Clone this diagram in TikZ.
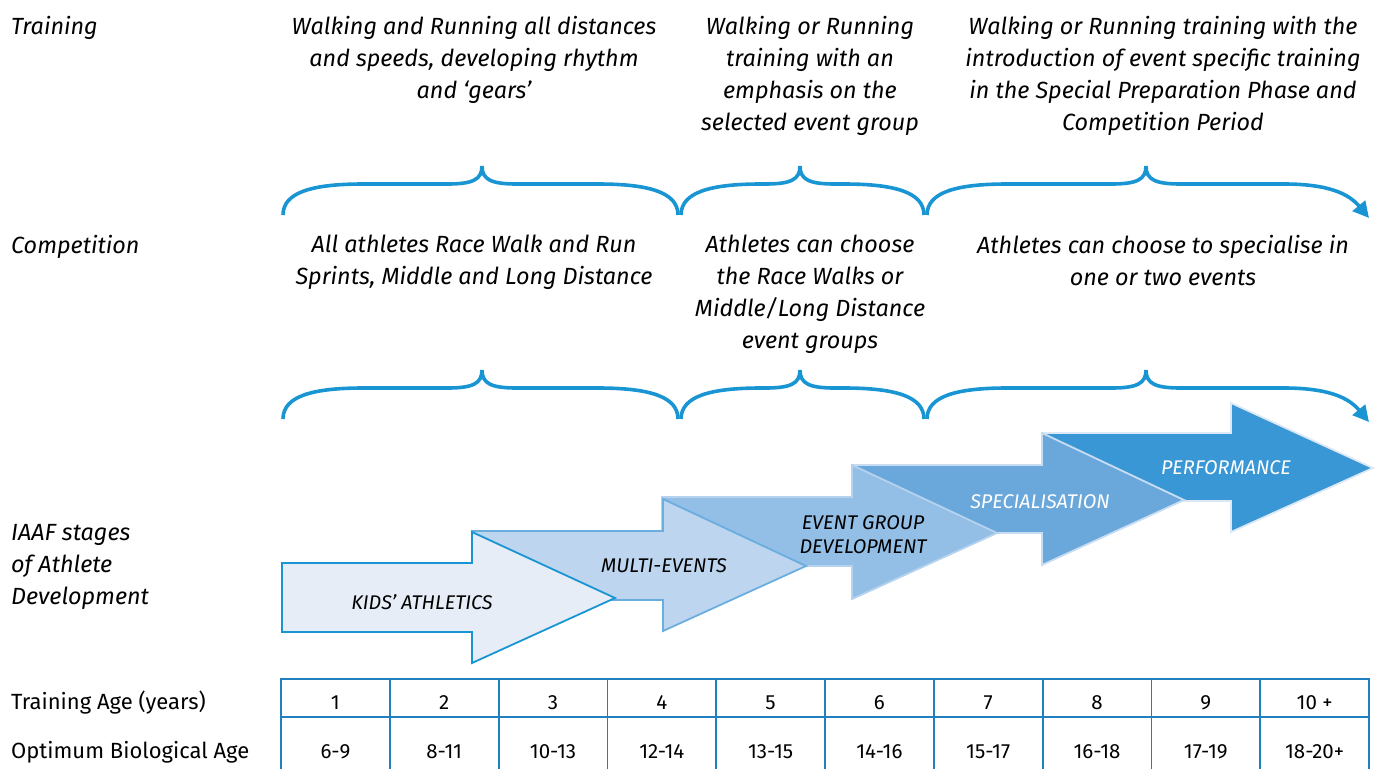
\documentclass[tikz,border=0pt]{standalone}
\usepackage{fontspec}
\setmainfont{Fira Sans}
\usetikzlibrary{arrows.meta}
\definecolor{brc}{HTML}{1A95D3}
\definecolor{tbc}{HTML}{1F7FBF}
\definecolor{fa}{HTML}{E6EDF7}
\definecolor{fb}{HTML}{BDD5EE}
\definecolor{fc}{HTML}{93BEE6}
\definecolor{fd}{HTML}{6AA8DC}
\definecolor{fe}{HTML}{3A97D5}
\definecolor{ea}{HTML}{1A95D3}
\definecolor{eb}{HTML}{6AAEE0}
\definecolor{ec}{HTML}{B5D2EE}
\definecolor{ed}{HTML}{C9DDF2}
\definecolor{ee}{HTML}{DCE8F5}
\newcommand\bracepath[4]{(#1,#4+31) .. controls (#1,#4+8) and (#1+30,#4) .. (#1+80,#4) -- (#2-35,#4) .. controls (#2-10,#4) and (#2,#4-4) .. (#2,#4-18) .. controls (#2,#4-4) and (#2+10,#4) .. (#2+35,#4) -- (#3-80,#4) .. controls (#3-30,#4) and (#3,#4+8) .. (#3,#4+31)}
\newcommand\lastbrace[4]{(#1,#4+31) .. controls (#1,#4+8) and (#1+30,#4) .. (#1+80,#4) -- (#2-35,#4) .. controls (#2-10,#4) and (#2,#4-4) .. (#2,#4-18) .. controls (#2,#4-4) and (#2+10,#4) .. (#2+35,#4) -- (#3-85,#4) .. controls (#3-40,#4) and (#3-20,#4+10) .. (#3,#4+34)}
\begin{document}
\begin{tikzpicture}[x=1pt,y=-1pt,
  lab/.style={font=\fontsize{23.4}{32}\selectfont\itshape, align=center, inner sep=0pt, anchor=north},
  side/.style={font=\fontsize{23.4}{32}\selectfont\itshape, align=left, inner sep=0pt},
  brc/.style={draw=brc, line width=3.6pt},
  stg/.style={font=\fontsize{19.8}{24}\selectfont\itshape, align=center, inner sep=0pt},
  stgbox/.style={line width=1.8pt, line join=miter},
  cell/.style={font=\fontsize{20.5}{24}\selectfont, inner sep=0pt},
  rowlab/.style={font=\fontsize{22}{24}\selectfont, anchor=west, inner sep=0pt},
  grid/.style={draw=tbc, line width=1.8pt}]
\useasboundingbox (0,0) rectangle (1379,769);

% side labels
\node[side, anchor=base west] (ltrain) at (11,34) {Training};
\node[side, anchor=base west] (lcomp) at (11,253) {Competition};
\node[side, anchor=north west] (lstage) at (11,524) {IAAF stages\\of Athlete\\Development};

% training texts
\node[lab] (t1) at (474,16) {Walking and Running all distances\\and speeds, developing rhythm\\and `gears'};
\node[lab] (t2) at (810,16) {Walking or Running\\training with an\\emphasis on the\\selected event group};
\node[lab] (t3) at (1163,16) {Walking or Running training with the\\introduction of event specific training\\in the Special Preparation Phase and\\Competition Period};

% competition texts
\node[lab] (c1) at (474,235) {All athletes Race Walk and Run\\Sprints, Middle and Long Distance};
\node[lab] (c2) at (810,235) {Athletes can choose\\the Race Walks or\\Middle/Long Distance\\event groups};
\node[lab] (c3) at (1163,235) {Athletes can choose to specialise in\\one or two events};

% braces
\draw[brc] \bracepath{283}{482}{678}{184};
\draw[brc] \bracepath{681}{800}{924}{184};
\draw[brc, -{Triangle[length=16pt,width=16pt]}] \lastbrace{927}{1146}{1369}{184};
\draw[brc] \bracepath{283}{482}{678}{388};
\draw[brc] \bracepath{681}{800}{924}{388};
\draw[brc, -{Triangle[length=16pt,width=16pt]}] \lastbrace{927}{1146}{1369}{388};

% stage arrows (back to front)
\draw[stgbox, fill=fe, draw=ee] (1042,433) -- (1231,433) -- (1231,403) -- (1373,468) -- (1231,532) -- (1231,501) -- (1042,501) -- cycle;
\draw[stgbox, fill=fd, draw=ed] (852,465) -- (1042,465) -- (1042,433) -- (1184,500) -- (1042,565) -- (1042,533) -- (852,533) -- cycle;
\draw[stgbox, fill=fc, draw=ec] (662,497) -- (852,497) -- (852,465) -- (997,533) -- (852,599) -- (852,566) -- (662,566) -- cycle;
\draw[stgbox, fill=fb, draw=eb] (472,531) -- (663,531) -- (663,499) -- (806,566) -- (663,631) -- (663,600) -- (472,600) -- cycle;
\draw[stgbox, fill=fa, draw=ea] (282,563) -- (472,563) -- (472,532) -- (615,598) -- (472,663) -- (472,632) -- (282,632) -- cycle;

\node[stg] (s1) at (422,602) {KIDS' ATHLETICS};
\node[stg] (s2) at (664,566) {MULTI-EVENTS};
\node[stg] (s3) at (863,535) {EVENT GROUP\\DEVELOPMENT};
\node[stg, text=white] (s4) at (1040,502) {SPECIALISATION};
\node[stg, text=white] (s5) at (1226,468) {PERFORMANCE};

% table
\draw[grid] (281,769) -- (281,679) -- (1369,679) -- (1369,769);
\draw[grid] (281,717) -- (1369,717);
\foreach \i in {1,...,9} {
  \draw[grid] (281+108.8*\i,679) -- (281+108.8*\i,769);
}
\node[rowlab] (r1) at (11,703) {Training Age (years)};
\node[rowlab] (r2) at (11,752) {Optimum Biological Age};
\foreach \a/\b [count=\i from 0] in {1/6-9,2/8-11,3/10-13,4/12-14,5/13-15,6/14-16,7/15-17,8/16-18,9/17-19,10 +/18-20+} {
  \node[cell] (ta\i) at (335.4+108.8*\i,703) {\a};
  \node[cell] (ba\i) at (335.4+108.8*\i,752) {\b};
}
\end{tikzpicture}
\end{document}
